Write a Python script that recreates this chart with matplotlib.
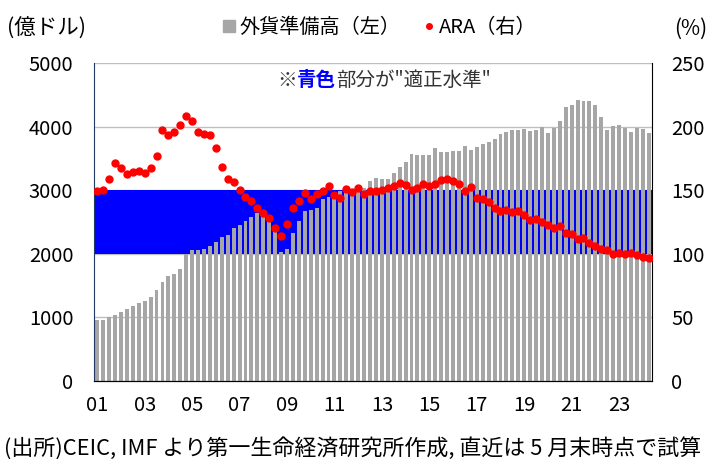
import numpy as np
import matplotlib.pyplot as plt
from matplotlib.lines import Line2D
from matplotlib.offsetbox import TextArea, HPacker, AnnotationBbox

plt.rcParams['font.family'] = ['Noto Sans CJK JP', 'DejaVu Sans']

# quarterly, 2001Q1 - 2024Q2 (latest = end of May)
reserves = [955, 957, 1010, 1032, 1082, 1130, 1172, 1223, 1255, 1315,
            1425, 1549, 1647, 1680, 1756, 1995, 2050, 2050, 2070, 2120,
            2184, 2260, 2292, 2405, 2450, 2510, 2578, 2638, 2600, 2520,
            2365, 2025, 2069, 2323, 2512, 2670, 2688, 2716, 2866, 2895,
            2960, 2985, 3000, 2985, 3075, 3035, 3140, 3190, 3172, 3172,
            3270, 3362, 3444, 3567, 3552, 3552, 3552, 3659, 3598, 3598,
            3614, 3614, 3693, 3633, 3675, 3723, 3754, 3801, 3880, 3912,
            3943, 3943, 3959, 3928, 3943, 3990, 3906, 3985, 4085, 4306,
            4342, 4416, 4400, 4400, 4337, 4148, 3948, 4003, 4022, 3980,
            3917, 3975, 3959, 3900]
ara = [149.6, 150.4, 159.0, 171.0, 167.7, 163.0, 164.6, 165.4, 163.5, 167.7,
       177.2, 196.9, 193.7, 195.8, 201.5, 208.5, 204.0, 196.0, 194.4, 193.0,
       183.4, 168.4, 159.0, 156.6, 150.4, 144.8, 141.7, 136.2, 132.2, 128.4,
       120.5, 114.2, 123.4, 136.2, 141.7, 148.0, 143.3, 147.0, 149.6, 153.3,
       146.2, 144.0, 151.0, 148.6, 152.0, 147.0, 149.6, 149.6, 150.4, 151.7,
       153.4, 155.9, 154.0, 150.2, 151.7, 155.0, 153.3, 155.0, 158.3, 159.0,
       157.5, 155.0, 149.6, 152.5, 144.0, 143.3, 141.0, 136.2, 133.9, 134.6,
       133.0, 133.9, 130.7, 126.3, 127.6, 125.1, 122.8, 120.5, 121.6, 116.5,
       115.7, 111.8, 112.6, 108.7, 106.3, 103.9, 103.1, 100.0, 100.8, 100.0,
       100.8, 99.2, 97.6, 96.9]
year_labels = ['01', '03', '05', '07', '09', '11', '13', '15', '17', '19', '21', '23']
ara_low, ara_high = 100, 150   # "adequate" range of ARA (%)

n = len(reserves)
x = np.arange(n)
scale = 5000 / 250   # left axis units per right axis unit

fig = plt.figure(figsize=(7.12, 4.59), dpi=100)
ax = fig.add_axes([0.1324, 0.1706, 0.7829, 0.6921])
ax2 = ax.twinx()

ax.axhspan(ara_low * scale, ara_high * scale, color='#0000FF', zorder=1, lw=0)
ax.bar(x, reserves, width=0.66, color='#A6A6A6', zorder=2)
ax.set_ylim(0, 5000)
ax.set_yticks(range(0, 5001, 1000))
ax.yaxis.grid(True, color='#BFBFBF', lw=1)
ax.set_axisbelow(True)
ax.set_xlim(-0.5, n - 0.5)
ax.set_xticks(x[::8])
ax.set_xticklabels(year_labels)
ax.tick_params(axis='x', direction='in', length=6, pad=10, labelsize=14.5)
ax.tick_params(axis='y', length=0, pad=15, labelsize=14.5)

ax2.plot(x, ara, 'o', color='#FF0000', markersize=5, zorder=3)
ax2.set_ylim(0, 250)
ax2.set_yticks(range(0, 251, 50))
ax2.tick_params(axis='y', length=0, pad=14, labelsize=14.5)

for a in (ax, ax2):
    a.spines['top'].set_visible(False)
ax2.spines['left'].set_visible(False)
ax.spines['left'].set_color('#1F3864')
ax.spines['right'].set_visible(False)
ax2.spines['right'].set_color('black')

fig.text(0.01, 0.937, '(億ドル)', fontsize=15.5, va='center')
fig.text(0.993, 0.937, '(%)', fontsize=15, va='center', ha='right')

handles = [Line2D([], [], marker='s', color='#A6A6A6', ls='None', markersize=8),
           Line2D([], [], marker='o', color='#FF0000', ls='None', markersize=4)]
fig.legend(handles, ['外貨準備高（左）', 'ARA（右）'], loc='center',
           bbox_to_anchor=(0.532, 0.94), ncol=2, frameon=False, fontsize=14.5,
           handletextpad=0.1, columnspacing=1.0, handlelength=0.8)

note = HPacker(children=[
    TextArea('※', textprops=dict(fontsize=14, color='#333333')),
    TextArea('青色', textprops=dict(fontsize=14, color='#0000FF', weight='bold')),
    TextArea('部分が"適正水準"', textprops=dict(fontsize=14, color='#333333')),
], sep=0, align='baseline')
ax.add_artist(AnnotationBbox(note, (0.52, 0.946), xycoords='axes fraction',
                             frameon=False))

fig.text(0.005, 0.024, '(出所)CEIC, IMF より第一生命経済研究所作成, 直近は 5 月末時点で試算',
         fontsize=15.8, va='center')

fig.savefig('out.png', dpi=100)
